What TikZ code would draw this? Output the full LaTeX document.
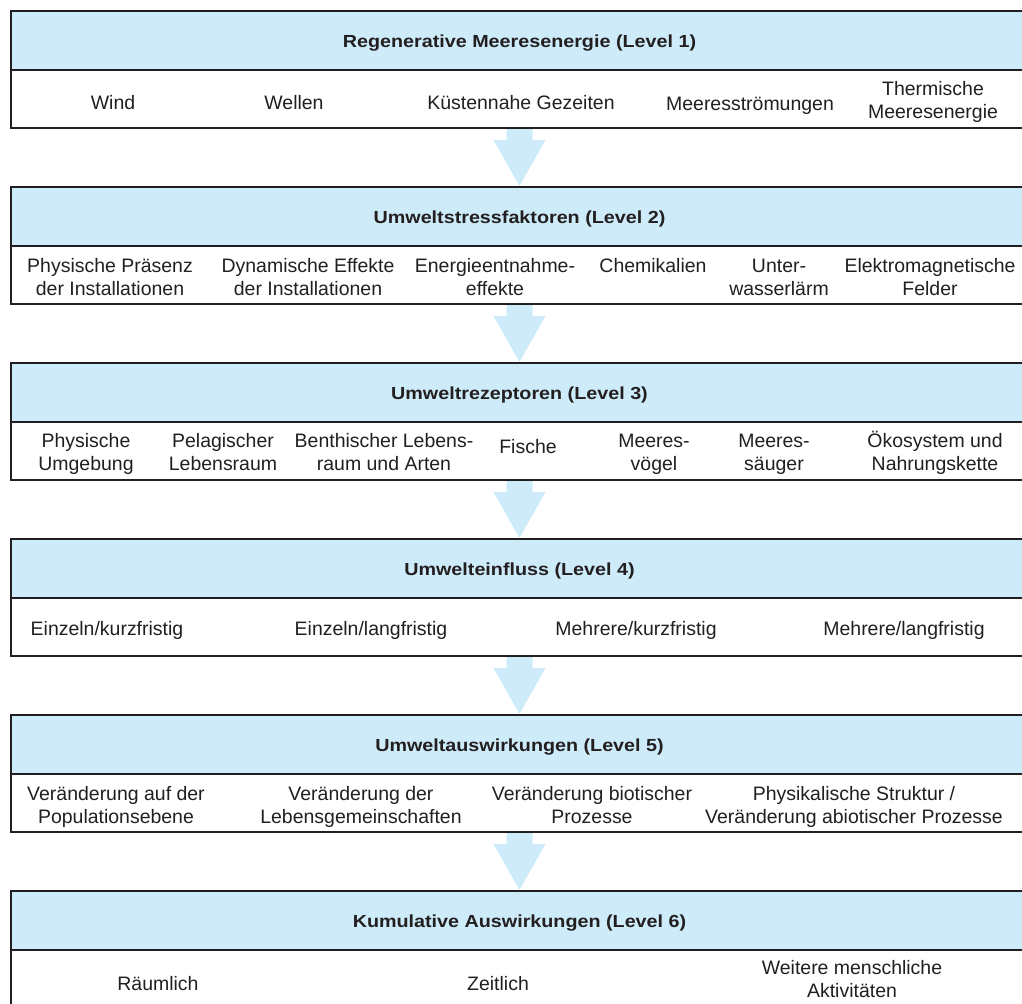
\documentclass[tikz,border=0pt]{standalone}
\usepackage{fontspec}
\usepackage{graphicx}
\setmainfont{Liberation Sans}
\usetikzlibrary{calc}
\definecolor{hdrblue}{RGB}{205,235,248}
\definecolor{ink}{RGB}{35,31,32}
\newcommand{\twoline}[2]{\begin{tabular}[t]{@{}c@{}}#1\\#2\end{tabular}}
\newcommand{\hdrtext}[1]{\scalebox{1.13}[1]{#1}}
\begin{document}
\begin{tikzpicture}[x=0.75pt,y=-0.75pt,
  hdr/.style={draw=ink,fill=hdrblue,line width=1.5pt,outer sep=0pt,inner sep=0pt,
    minimum width=763.5pt,minimum height=43.875pt,anchor=north west},
  bod/.style={draw=ink,fill=white,line width=1.5pt,outer sep=0pt,inner sep=0pt,
    minimum width=763.5pt,minimum height=43.875pt,anchor=north west},
  title/.style={anchor=base,inner sep=0pt,text=ink,font=\fontsize{13.1pt}{15pt}\selectfont\bfseries},
  lbl/.style={anchor=base,inner sep=0pt,text=ink,font=\fontsize{14.6pt}{17.6pt}\selectfont},
  arrowfill/.style={fill=hdrblue}]
\useasboundingbox (0,0) rectangle (1022,1004);
\clip (0,0) rectangle (1022,1004);
% boxes
\foreach \i in {1,...,6}{
  \node[hdr] (h\i) at (10.5,{11+176*(\i-1)}) {};
  \node[bod] (b\i) at (h\i.south west) {};
}
% arrows
\foreach \i/\j in {1/2,2/3,3/4,4/5,5/6}{
  \fill[arrowfill] ($(b\i.south)+(-13,1)$) -- ($(b\i.south)+(13,1)$) -- ($(b\i.south)+(13,12)$)
    -- ($(b\i.south)+(26,12)$) -- ($(h\j.north)+(0,-1)$) -- ($(b\i.south)+(-26,12)$)
    -- ($(b\i.south)+(-13,12)$) -- cycle;
}
% titles
\node[title] (t1) at ($(h1.north)+(0,36)$) {\hdrtext{Regenerative Meeresenergie (Level 1)}};
\node[title] (t2) at ($(h2.north)+(0,36)$) {\hdrtext{Umweltstressfaktoren (Level 2)}};
\node[title] (t3) at ($(h3.north)+(0,36)$) {\hdrtext{Umweltrezeptoren (Level 3)}};
\node[title] (t4) at ($(h4.north)+(0,36)$) {\hdrtext{Umwelteinfluss (Level 4)}};
\node[title] (t5) at ($(h5.north)+(0,36)$) {\hdrtext{Umweltauswirkungen (Level 5)}};
\node[title] (t6) at ($(h6.north)+(0,36)$) {\hdrtext{Kumulative Auswirkungen (Level 6)}};
% level 1
\node[lbl] (l1a) at (113,109.5) {Wind};
\node[lbl] (l1b) at (294,109.5) {Wellen};
\node[lbl] (l1c) at (521,109.5) {Küstennahe Gezeiten};
\node[lbl] (l1d) at (750,110) {Meeresströmungen};
\node[lbl] (l1e) at (933,95.5) {\twoline{Thermische}{Meeresenergie}};
% level 2
\node[lbl] (l2a) at (110,272) {\twoline{Physische Präsenz}{der Installationen}};
\node[lbl] (l2b) at (308,272) {\twoline{Dynamische Effekte}{der Installationen}};
\node[lbl] (l2c) at (495,272) {\twoline{Energieentnahme-}{effekte}};
\node[lbl] (l2d) at (653,272) {Chemikalien};
\node[lbl] (l2e) at (779,272) {\twoline{Unter-}{wasserlärm}};
\node[lbl] (l2f) at (930,272) {\twoline{Elektromagnetische}{Felder}};
% level 3
\node[lbl] (l3a) at (86,447) {\twoline{Physische}{Umgebung}};
\node[lbl] (l3b) at (223,447) {\twoline{Pelagischer}{Lebensraum}};
\node[lbl] (l3c) at (384,447) {\twoline{Benthischer Lebens-}{raum und Arten}};
\node[lbl] (l3d) at (528,453) {Fische};
\node[lbl] (l3e) at (654,447) {\twoline{Meeres-}{vögel}};
\node[lbl] (l3f) at (774,447) {\twoline{Meeres-}{säuger}};
\node[lbl] (l3g) at (935,447) {\twoline{Ökosystem und}{Nahrungskette}};
% level 4
\node[lbl] (l4a) at (107,635) {Einzeln/kurzfristig};
\node[lbl] (l4b) at (371,635) {Einzeln/langfristig};
\node[lbl] (l4c) at (636,635) {Mehrere/kurzfristig};
\node[lbl] (l4d) at (904,635) {Mehrere/langfristig};
% level 5
\node[lbl] (l5a) at (116,800) {\twoline{Veränderung auf der}{Populationsebene}};
\node[lbl] (l5b) at (361,800) {\twoline{Veränderung der}{Lebensgemeinschaften}};
\node[lbl] (l5c) at (592,800) {\twoline{Veränderung biotischer}{Prozesse}};
\node[lbl] (l5d) at (854,800) {\twoline{Physikalische Struktur /}{Veränderung abiotischer Prozesse}};
% level 6
\node[lbl] (l6a) at (158,990) {Räumlich};
\node[lbl] (l6b) at (498,990) {Zeitlich};
\node[lbl] (l6c) at (852,974) {\twoline{Weitere menschliche}{Aktivitäten}};
\end{tikzpicture}
\end{document}
